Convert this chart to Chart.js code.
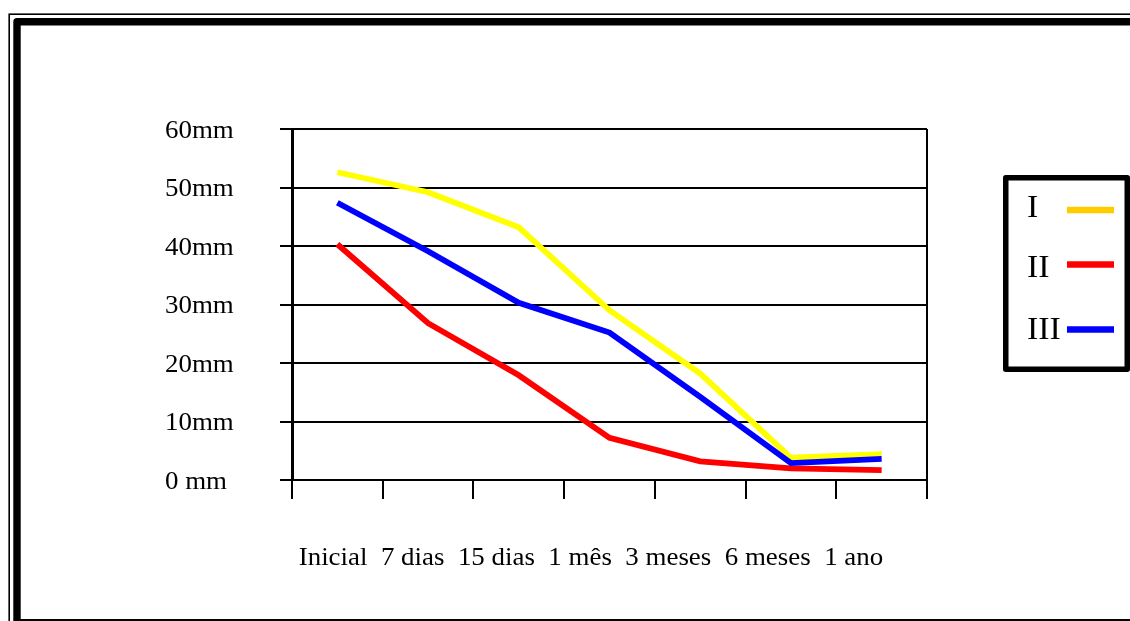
<!DOCTYPE html>
<html>
<head>
<meta charset="utf-8">
<title>Evolução das medidas</title>
<script src="https://cdn.jsdelivr.net/npm/chart.js@4.4.1/dist/chart.umd.min.js"></script>
<style>
  html, body { margin: 0; padding: 0; background: #fff; overflow: hidden; }
  canvas { display: block; }
</style>
</head>
<body>
<canvas id="c" width="1130" height="621"></canvas>
<script>
// Measurement periods and the three series (values in mm)
const categories = ['Inicial', '7 dias', '15 dias', '1 mês', '3 meses', '6 meses', '1 ano'];
const seriesNames = ['I', 'II', 'III'];
const seriesI = [52.6, 49.2, 43.2, 29.0, 18.2, 3.8, 4.4];
const seriesII = [40.3, 26.8, 17.9, 7.2, 3.2, 2.0, 1.7];
const seriesIII = [47.4, 39.1, 30.3, 25.2, 14.2, 2.9, 3.6];
const lineColors = ['#ffff00', '#ff0000', '#0000ff'];
const legendColors = ['#ffcc00', '#ff0000', '#0000ff'];
const yTickValues = [0, 10, 20, 30, 40, 50, 60];
const yTickLabels = ['0 mm', '10mm', '20mm', '30mm', '40mm', '50mm', '60mm'];

const SERIF = '"Liberation Serif", "Times New Roman", serif';
const TEXT_SIZE = 26;    // axis labels and period line
const LEGEND_SIZE = 32;  // legend names

// Slight horizontal expansion applied to each text size
const expansion = { [TEXT_SIZE]: 1.035, [LEGEND_SIZE]: 1.06 };

const canvas = document.getElementById('c');
const ctx = canvas.getContext('2d');

function widthFactor(font) {
  const m = /(\d+(?:\.\d+)?)px/.exec(font);
  return (m && expansion[parseFloat(m[1])]) || 1;
}

// Expanded serif face: glyphs are drawn wider than normal, and measured the same way
const plainFill = ctx.fillText.bind(ctx);
const plainMeasure = ctx.measureText.bind(ctx);
ctx.fillText = function (text, x, y) {
  const k = widthFactor(this.font);
  this.save();
  this.translate(x, y);
  this.scale(k, 1);
  plainFill(text, 0, 0);
  this.restore();
};
ctx.measureText = function (text) {
  const k = widthFactor(this.font);
  const m = plainMeasure(text);
  return {
    width: m.width * k,
    actualBoundingBoxAscent: m.actualBoundingBoxAscent,
    actualBoundingBoxDescent: m.actualBoundingBoxDescent,
    actualBoundingBoxLeft: m.actualBoundingBoxLeft * k,
    actualBoundingBoxRight: m.actualBoundingBoxRight * k
  };
};

// Double page frame (thin outer rule, heavy inner rule)
const pageFrame = {
  id: 'pageFrame',
  beforeDraw(chart) {
    const c = chart.ctx;
    c.save();
    c.fillStyle = '#fff';
    c.fillRect(0, 0, chart.width, chart.height);
    c.strokeStyle = '#000';
    c.lineWidth = 1.6;
    c.strokeRect(9.2, 14.2, 1300, 800);
    c.lineWidth = 7.4;
    c.lineJoin = 'round';
    c.strokeRect(17, 21.7, 1300, 601);
    c.restore();
  }
};

// Right edge of the plot box
const plotEdge = {
  id: 'plotEdge',
  beforeDatasetsDraw(chart) {
    const { ctx: c, chartArea: a } = chart;
    c.save();
    c.strokeStyle = '#000';
    c.lineWidth = 2;
    c.beginPath();
    c.moveTo(a.right, a.top);
    c.lineTo(a.right, a.bottom);
    c.stroke();
    c.restore();
  }
};

// Boxed legend: name on the left, line sample on the right
const boxLegend = {
  id: 'boxLegend',
  afterDraw(chart) {
    const c = chart.ctx;
    c.save();
    c.strokeStyle = '#000';
    c.lineWidth = 5.5;
    c.lineJoin = 'round';
    c.strokeRect(1005.75, 177.75, 121.5, 191.5);
    const rows = [
      { ty: 208.5, ly: 210 },
      { ty: 269, ly: 264.5 },
      { ty: 330.5, ly: 329.5 }
    ];
    c.font = LEGEND_SIZE + 'px ' + SERIF;
    c.fillStyle = '#000';
    c.textAlign = 'left';
    c.textBaseline = 'middle';
    chart.data.datasets.forEach((ds, i) => {
      const r = rows[i];
      c.fillText(ds.label, 1027, r.ty);
      c.strokeStyle = legendColors[i];
      c.lineWidth = 6.7;
      c.lineCap = 'butt';
      c.beginPath();
      c.moveTo(1067, r.ly);
      c.lineTo(1114, r.ly);
      c.stroke();
    });
    c.restore();
  }
};

const seriesValues = [seriesI, seriesII, seriesIII];
const drawOrder = [3, 2, 1];

new Chart(ctx, {
  type: 'line',
  data: {
    labels: categories,
    datasets: seriesNames.map((name, i) => ({
      label: name,
      data: seriesValues[i],
      borderColor: lineColors[i],
      backgroundColor: lineColors[i],
      borderWidth: 5.8,
      pointRadius: 0,
      pointHoverRadius: 0,
      tension: 0,
      fill: false,
      order: drawOrder[i]
    }))
  },
  options: {
    responsive: false,
    animation: false,
    devicePixelRatio: 1,
    events: [],
    layout: { padding: { top: 129, right: 203, bottom: 0, left: 165 } },
    plugins: {
      legend: { display: false },
      tooltip: { enabled: false },
      title: { display: false }
    },
    scales: {
      x: {
        type: 'category',
        offset: true,
        grid: {
          offset: true,
          drawOnChartArea: false,
          drawTicks: true,
          tickLength: 19,
          lineWidth: 2,
          color: '#000'
        },
        border: { display: true, color: '#000', width: 2 },
        ticks: { display: false },
        title: {
          display: true,
          // period names written as one line under the plot, starting one space in
          text: ' ' + categories.join('  '),
          align: 'start',
          color: '#000',
          font: { family: SERIF, size: TEXT_SIZE, lineHeight: 1.2 },
          padding: { top: 0, bottom: 47.5 }
        },
        afterFit(scale) { scale.height = 141; }
      },
      y: {
        min: 0,
        max: 60,
        grid: {
          color: '#000',
          lineWidth: 2,
          tickLength: 12,
          drawTicks: true
        },
        border: { display: true, color: '#000', width: 3 },
        ticks: {
          stepSize: 10,
          padding: 46,
          crossAlign: 'far',
          labelOffset: 2,
          color: '#000',
          font: { family: SERIF, size: TEXT_SIZE },
          callback: (v) => yTickLabels[yTickValues.indexOf(v)]
        },
        afterFit(scale) { scale.width = 127; }
      }
    }
  },
  plugins: [pageFrame, plotEdge, boxLegend]
});
</script>
</body>
</html>
